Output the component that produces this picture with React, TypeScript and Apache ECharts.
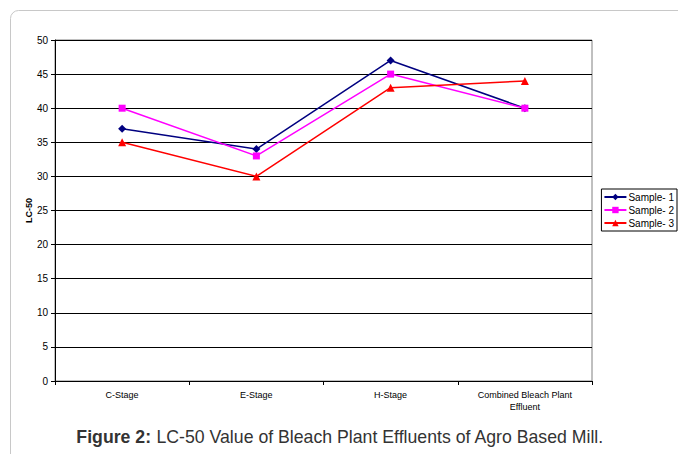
import React, { useEffect, useRef } from "react";
import * as echarts from "echarts";

const categories = ["C-Stage", "E-Stage", "H-Stage", "Combined Bleach Plant\nEffluent"];
const sample1 = [37, 34, 47, 40];
const sample2 = [40, 33, 45, 40];
const sample3 = [35, 30, 43, 44];
const seriesNames = ["Sample- 1", "Sample- 2", "Sample- 3"];

export default function App() {
  const ref = useRef<HTMLDivElement>(null);
  useEffect(() => {
    const chart = echarts.init(ref.current!, null, { renderer: "svg" });
    const mk = (name: string, data: number[], color: string, symbol: string, size: number) => ({
      name,
      type: "line",
      data,
      symbol,
      symbolSize: size,
      lineStyle: { color, width: 1.5 },
      itemStyle: { color },
    });
    chart.setOption({
      animation: false,
      backgroundColor: "#fff",
      textStyle: { fontFamily: "Liberation Sans, Arial, sans-serif" },
      graphic: [
        {
          type: "rect",
          shape: { x: 10.5, y: 10.5, width: 720, height: 500, r: 8 },
          style: { fill: "none", stroke: "#c8c8c8", lineWidth: 1 },
        },
        {
          type: "text",
          x: 340,
          y: 437,
          style: {
            text: "{b|Figure 2:} LC-50 Value of Bleach Plant Effluents of Agro Based Mill.",
            rich: {
              b: { fontWeight: "bold", fontSize: 17.7, fill: "#333", fontFamily: "Liberation Sans, Arial, sans-serif" },
            },
            fontSize: 17.7,
            fill: "#333",
            fontFamily: "Liberation Sans, Arial, sans-serif",
            align: "center",
            verticalAlign: "middle",
          },
        },
      ],
      grid: { left: 55, right: 86, top: 40, bottom: 73, show: true, borderColor: "#808080", borderWidth: 1 },
      legend: {
        orient: "vertical",
        right: 1,
        top: 189,
        itemWidth: 22,
        itemHeight: 8,
        itemGap: 3,
        padding: [3, 3, 3, 2],
        borderColor: "#000",
        borderWidth: 1,
        borderRadius: 0,
        textStyle: { fontSize: 10, color: "#000", padding: [0, 0, 0, -3] },
        data: seriesNames,
      },
      xAxis: {
        type: "category",
        data: categories,
        boundaryGap: true,
        axisLine: { lineStyle: { color: "#000", width: 1 } },
        axisTick: { show: true, length: 4, lineStyle: { color: "#000" } },
        axisLabel: { fontSize: 9, color: "#000", margin: 8, lineHeight: 12 },
      },
      yAxis: {
        type: "value",
        min: 0,
        max: 50,
        interval: 5,
        name: "LC-50",
        nameLocation: "middle",
        nameGap: 22,
        nameMoveOverlap: false,
        nameTextStyle: { fontSize: 9, fontWeight: "bold", color: "#000" },
        axisLine: { show: true, lineStyle: { color: "#000", width: 1 } },
        axisTick: { show: true, length: 4, lineStyle: { color: "#000" } },
        axisLabel: { fontSize: 10, color: "#000", margin: 7 },
        splitLine: { lineStyle: { color: "#000", width: 1 } },
      },
      series: [
        mk(seriesNames[0], sample1, "#000080", "diamond", 8),
        mk(seriesNames[1], sample2, "#FF00FF", "rect", 7),
        mk(seriesNames[2], sample3, "#FF0000", "triangle", 8),
      ],
    });
    return () => chart.dispose();
  }, []);
  return (
    <div
      ref={ref}
      style={{ position: "fixed", left: 0, top: 0, width: 678, height: 454 }}
    />
  );
}
